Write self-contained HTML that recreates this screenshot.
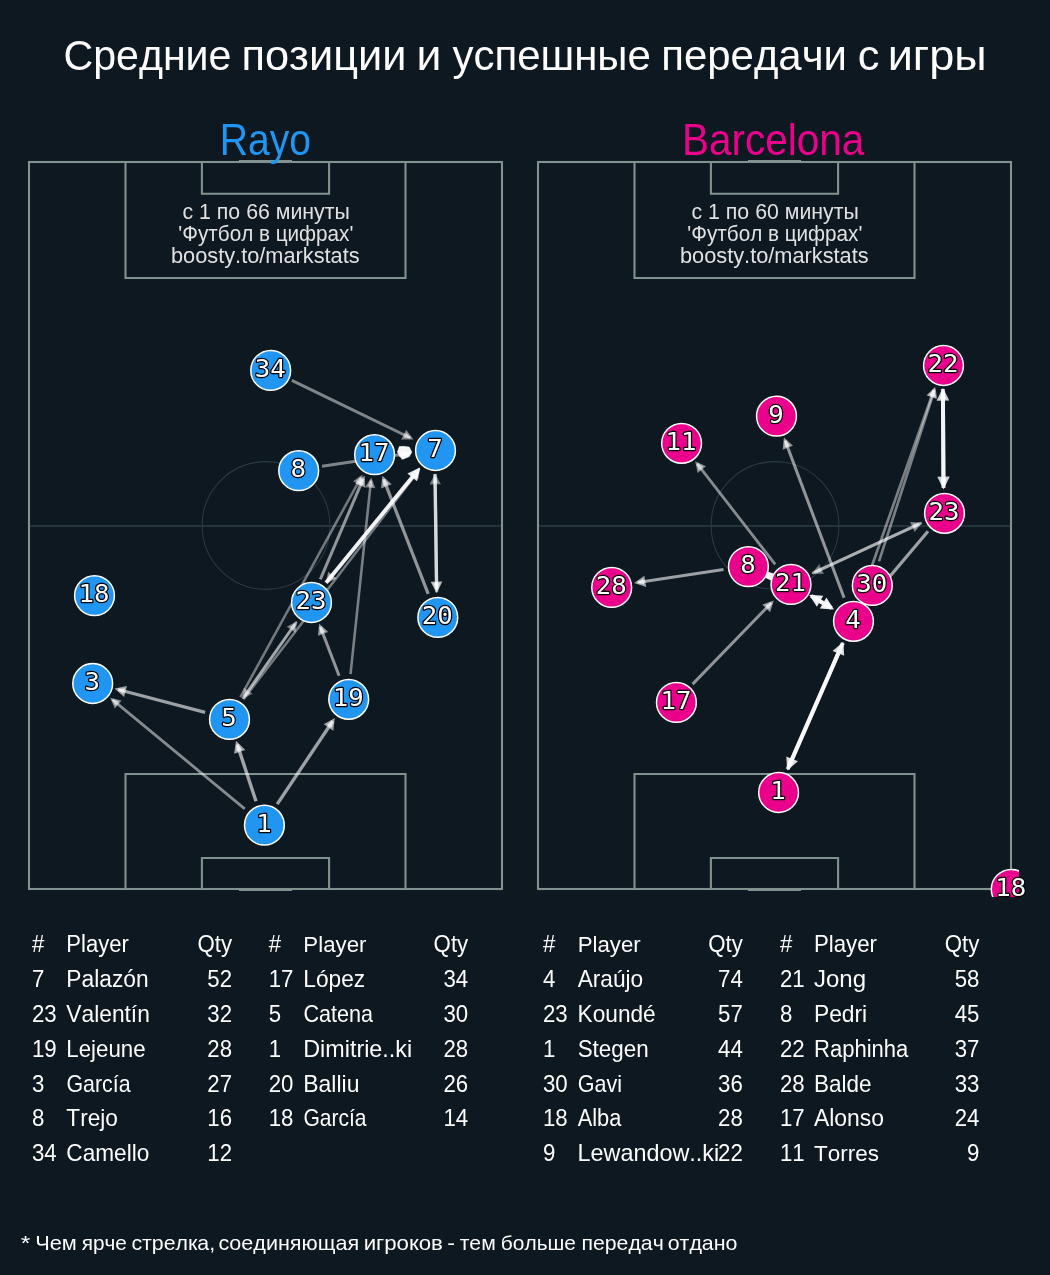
<!DOCTYPE html>
<html lang="ru"><head><meta charset="utf-8"><title>Средние позиции и успешные передачи с игры</title>
<style>
html,body{margin:0;padding:0;background:#0e1820;}
body{width:1050px;height:1275px;overflow:hidden;}
svg{display:block;}
text{font-family:"Liberation Sans",sans-serif;fill:#ffffff;font-kerning:none;font-variant-ligatures:none;}
.n{font-family:"DejaVu Sans Mono",monospace;font-size:25px;fill:#fff;stroke:#000;stroke-width:2.4px;paint-order:stroke fill;stroke-linejoin:round;text-anchor:middle;}
.t{font-size:22px;}
.r{text-anchor:end;}
.m{text-anchor:middle;}
</style></head><body>
<svg width="1050" height="1275" viewBox="0 0 1050 1275">
<rect width="1050" height="1275" fill="#0e1820"/>
<g opacity="0.999">
<defs><clipPath id="cl"><rect x="20" y="153" width="490" height="744"/></clipPath><clipPath id="cr"><rect x="529" y="153" width="490" height="744"/></clipPath></defs>
<text transform="translate(63.51,69.8) scale(0.9521,1)" font-size="43.2" >Средние</text>
<text transform="translate(241.49,69.8) scale(1.0033,1)" font-size="43.2" >позиции</text>
<text transform="translate(416.51,69.8) scale(1.0308,1)" font-size="43.2" >и</text>
<text transform="translate(452.40,69.8) scale(0.9724,1)" font-size="43.2" >успешные</text>
<text transform="translate(661.29,69.8) scale(0.9706,1)" font-size="43.2" >передачи</text>
<text transform="translate(857.76,69.8) scale(1.0040,1)" font-size="43.2" >с</text>
<text transform="translate(887.68,69.8) scale(1.0419,1)" font-size="43.2" >игры</text>
<line x1="29" y1="526" x2="502" y2="526" stroke="#25333b" stroke-width="2"/>
<circle cx="266.0" cy="525.5" r="63.9" fill="none" stroke="#2b3c43" stroke-width="1.1"/>
<rect x="29" y="162" width="473" height="727.0" fill="none" stroke="#81948f" stroke-width="2.1"/>
<polyline points="125.5,162 125.5,278.0 405.5,278.0 405.5,162" fill="none" stroke="#81948f" stroke-width="2.1"/>
<polyline points="201.9,162 201.9,193.7 329.1,193.7 329.1,162" fill="none" stroke="#81948f" stroke-width="2.1"/>
<line x1="239.0" y1="161.0" x2="292.0" y2="161.0" stroke="#81948f" stroke-width="2.1"/>
<polyline points="125.5,889 125.5,774.0 405.5,774.0 405.5,889" fill="none" stroke="#81948f" stroke-width="2.1"/>
<polyline points="201.9,889 201.9,858.0 329.1,858.0 329.1,889" fill="none" stroke="#81948f" stroke-width="2.1"/>
<line x1="239.0" y1="890.0" x2="292.0" y2="890.0" stroke="#81948f" stroke-width="2.1"/>
<line x1="538" y1="526" x2="1011" y2="526" stroke="#25333b" stroke-width="2"/>
<circle cx="775.0" cy="525.5" r="63.9" fill="none" stroke="#2b3c43" stroke-width="1.1"/>
<rect x="538" y="162" width="473" height="727.0" fill="none" stroke="#81948f" stroke-width="2.1"/>
<polyline points="634.5,162 634.5,278.0 914.5,278.0 914.5,162" fill="none" stroke="#81948f" stroke-width="2.1"/>
<polyline points="710.9,162 710.9,193.7 838.1,193.7 838.1,162" fill="none" stroke="#81948f" stroke-width="2.1"/>
<line x1="748.0" y1="161.0" x2="801.0" y2="161.0" stroke="#81948f" stroke-width="2.1"/>
<polyline points="634.5,889 634.5,774.0 914.5,774.0 914.5,889" fill="none" stroke="#81948f" stroke-width="2.1"/>
<polyline points="710.9,889 710.9,858.0 838.1,858.0 838.1,889" fill="none" stroke="#81948f" stroke-width="2.1"/>
<line x1="748.0" y1="890.0" x2="801.0" y2="890.0" stroke="#81948f" stroke-width="2.1"/>
<text transform="translate(219.69,154.6) scale(0.8986,1)" font-size="43.5" style="fill:#2196f3">Rayo</text>
<text transform="translate(682.08,154.6) scale(0.9308,1)" font-size="43.5" style="fill:#ec008c">Barcelona</text>
<text transform="translate(182.49,219.0) scale(1.0055,1)" font-size="21.2" style="fill:#e2e2e2">с 1 по 66 минуты</text>
<text transform="translate(178.35,241.0) scale(0.9756,1)" font-size="21.2" style="fill:#e2e2e2">'Футбол в цифрах'</text>
<text transform="translate(171.00,262.9) scale(1.0271,1)" font-size="21.2" style="fill:#e2e2e2">boosty.to/markstats</text>
<text transform="translate(691.49,219.0) scale(1.0055,1)" font-size="21.2" style="fill:#e2e2e2">с 1 по 60 минуты</text>
<text transform="translate(687.35,241.0) scale(0.9756,1)" font-size="21.2" style="fill:#e2e2e2">'Футбол в цифрах'</text>
<text transform="translate(680.00,262.9) scale(1.0271,1)" font-size="21.2" style="fill:#e2e2e2">boosty.to/markstats</text>
<g clip-path="url(#cl)">
<line x1="291.8" y1="380.3" x2="410.6" y2="438.0" stroke="#fff" stroke-opacity="0.48" stroke-width="3.0"/><polygon points="403.6,438.1 410.6,438.0 406.4,432.5" fill="#fff" fill-opacity="0.48" stroke="#fff" stroke-opacity="0.48" stroke-width="3.0" stroke-linejoin="miter" stroke-miterlimit="10"/>
<line x1="322.0" y1="466.3" x2="408.2" y2="453.6" stroke="#fff" stroke-opacity="0.48" stroke-width="3.0"/><polygon points="402.5,457.6 408.2,453.6 401.6,451.5" fill="#fff" fill-opacity="0.48" stroke="#fff" stroke-opacity="0.48" stroke-width="3.0" stroke-linejoin="miter" stroke-miterlimit="10"/>
<line x1="240.4" y1="697.2" x2="361.1" y2="477.1" stroke="#fff" stroke-opacity="0.42" stroke-width="2.6"/><polygon points="360.8,484.1 361.1,477.1 355.4,481.1" fill="#fff" fill-opacity="0.42" stroke="#fff" stroke-opacity="0.42" stroke-width="2.6" stroke-linejoin="miter" stroke-miterlimit="10"/>
<line x1="320.3" y1="579.3" x2="363.3" y2="478.6" stroke="#fff" stroke-opacity="0.55" stroke-width="3.0"/><polygon points="363.7,485.5 363.3,478.6 358.0,483.1" fill="#fff" fill-opacity="0.55" stroke="#fff" stroke-opacity="0.55" stroke-width="3.0" stroke-linejoin="miter" stroke-miterlimit="10"/>
<line x1="350.5" y1="674.2" x2="371.0" y2="480.3" stroke="#fff" stroke-opacity="0.45" stroke-width="2.6"/><polygon points="373.4,486.7 371.0,480.3 367.3,486.1" fill="#fff" fill-opacity="0.45" stroke="#fff" stroke-opacity="0.45" stroke-width="2.6" stroke-linejoin="miter" stroke-miterlimit="10"/>
<line x1="428.2" y1="593.9" x2="383.6" y2="479.1" stroke="#fff" stroke-opacity="0.55" stroke-width="3.2"/><polygon points="388.7,483.7 383.6,479.1 382.9,486.0" fill="#fff" fill-opacity="0.55" stroke="#fff" stroke-opacity="0.55" stroke-width="3.2" stroke-linejoin="miter" stroke-miterlimit="10"/>
<line x1="243.5" y1="699.2" x2="418.6" y2="470.7" stroke="#fff" stroke-opacity="0.42" stroke-width="2.6"/><polygon points="417.3,477.5 418.6,470.7 412.4,473.8" fill="#fff" fill-opacity="0.42" stroke="#fff" stroke-opacity="0.42" stroke-width="2.6" stroke-linejoin="miter" stroke-miterlimit="10"/>
<line x1="419.3" y1="468.6" x2="327.6" y2="581.0" stroke="#fff" stroke-opacity="0.5" stroke-width="2.8"/><polygon points="329.1,574.3 327.6,581.0 333.9,578.2" fill="#fff" fill-opacity="0.5" stroke="#fff" stroke-opacity="0.5" stroke-width="2.8" stroke-linejoin="miter" stroke-miterlimit="10"/>
<line x1="326.1" y1="582.8" x2="417.3" y2="471.0" stroke="#fff" stroke-opacity="0.9" stroke-width="3.9"/><polygon points="415.8,477.8 417.3,471.0 411.0,473.9" fill="#fff" fill-opacity="0.9" stroke="#fff" stroke-opacity="0.9" stroke-width="3.9" stroke-linejoin="miter" stroke-miterlimit="10"/>
<line x1="435.0" y1="474.1" x2="436.6" y2="589.5" stroke="#fff" stroke-opacity="0.72" stroke-width="3.4"/><polygon points="433.4,583.3 436.6,589.5 439.6,583.2" fill="#fff" fill-opacity="0.72" stroke="#fff" stroke-opacity="0.72" stroke-width="3.4" stroke-linejoin="miter" stroke-miterlimit="10"/>
<line x1="436.7" y1="592.2" x2="435.1" y2="476.7" stroke="#fff" stroke-opacity="0.42" stroke-width="3.2"/><polygon points="438.3,482.8 435.1,476.7 432.1,482.9" fill="#fff" fill-opacity="0.42" stroke="#fff" stroke-opacity="0.42" stroke-width="3.2" stroke-linejoin="miter" stroke-miterlimit="10"/>
<line x1="242.7" y1="698.6" x2="295.4" y2="623.5" stroke="#fff" stroke-opacity="0.42" stroke-width="2.8"/><polygon points="294.4,630.4 295.4,623.5 289.3,626.8" fill="#fff" fill-opacity="0.42" stroke="#fff" stroke-opacity="0.42" stroke-width="2.8" stroke-linejoin="miter" stroke-miterlimit="10"/>
<line x1="296.7" y1="621.7" x2="244.0" y2="696.8" stroke="#fff" stroke-opacity="0.36" stroke-width="2.8"/><polygon points="245.0,689.9 244.0,696.8 250.1,693.5" fill="#fff" fill-opacity="0.36" stroke="#fff" stroke-opacity="0.36" stroke-width="2.8" stroke-linejoin="miter" stroke-miterlimit="10"/>
<line x1="339.1" y1="675.7" x2="320.3" y2="626.7" stroke="#fff" stroke-opacity="0.55" stroke-width="3.0"/><polygon points="325.4,631.4 320.3,626.7 319.7,633.6" fill="#fff" fill-opacity="0.55" stroke="#fff" stroke-opacity="0.55" stroke-width="3.0" stroke-linejoin="miter" stroke-miterlimit="10"/>
<line x1="205.1" y1="712.4" x2="118.0" y2="689.5" stroke="#fff" stroke-opacity="0.6" stroke-width="3.2"/><polygon points="124.8,688.1 118.0,689.5 123.2,694.1" fill="#fff" fill-opacity="0.6" stroke="#fff" stroke-opacity="0.6" stroke-width="3.2" stroke-linejoin="miter" stroke-miterlimit="10"/>
<line x1="244.8" y1="808.9" x2="112.4" y2="699.6" stroke="#fff" stroke-opacity="0.5" stroke-width="2.7"/><polygon points="119.2,701.2 112.4,699.6 115.2,706.0" fill="#fff" fill-opacity="0.5" stroke="#fff" stroke-opacity="0.5" stroke-width="2.7" stroke-linejoin="miter" stroke-miterlimit="10"/>
<line x1="256.0" y1="801.2" x2="237.2" y2="744.4" stroke="#fff" stroke-opacity="0.62" stroke-width="3.4"/><polygon points="242.1,749.3 237.2,744.4 236.2,751.2" fill="#fff" fill-opacity="0.62" stroke="#fff" stroke-opacity="0.62" stroke-width="3.4" stroke-linejoin="miter" stroke-miterlimit="10"/>
<line x1="277.2" y1="804.1" x2="332.8" y2="721.0" stroke="#fff" stroke-opacity="0.6" stroke-width="3.3"/><polygon points="332.0,727.9 332.8,721.0 326.8,724.4" fill="#fff" fill-opacity="0.6" stroke="#fff" stroke-opacity="0.6" stroke-width="3.3" stroke-linejoin="miter" stroke-miterlimit="10"/>
<polygon points="397.4,452.1 399.3,446.6 403.3,446.3 409.2,447.0 411.9,452.1 409.3,456.6 403.0,459.2 399.6,456.6" fill="#fff" fill-opacity="0.96" stroke="#fff" stroke-opacity="0.6" stroke-width="0.8" stroke-linejoin="round"/>
<circle cx="270.7" cy="370.4" r="19.9" fill="#2196f3" stroke="#fff" stroke-width="1.5"/>
<circle cx="298.7" cy="470.7" r="19.9" fill="#2196f3" stroke="#fff" stroke-width="1.5"/>
<circle cx="374.6" cy="454.7" r="19.9" fill="#2196f3" stroke="#fff" stroke-width="1.5"/>
<circle cx="435.5" cy="450.5" r="19.9" fill="#2196f3" stroke="#fff" stroke-width="1.5"/>
<circle cx="94.5" cy="595.6" r="19.9" fill="#2196f3" stroke="#fff" stroke-width="1.5"/>
<circle cx="311.5" cy="602.5" r="19.9" fill="#2196f3" stroke="#fff" stroke-width="1.5"/>
<circle cx="437.8" cy="617.4" r="19.9" fill="#2196f3" stroke="#fff" stroke-width="1.5"/>
<circle cx="92.7" cy="683.5" r="19.9" fill="#2196f3" stroke="#fff" stroke-width="1.5"/>
<circle cx="229.5" cy="719.4" r="19.9" fill="#2196f3" stroke="#fff" stroke-width="1.5"/>
<circle cx="348.7" cy="699.3" r="19.9" fill="#2196f3" stroke="#fff" stroke-width="1.5"/>
<circle cx="264.4" cy="825.2" r="19.9" fill="#2196f3" stroke="#fff" stroke-width="1.5"/>
</g>
<text transform="translate(270.20,377.10) scale(1.03,1.022)" class="n">34</text>
<text transform="translate(298.20,477.40) scale(1.03,1.022)" class="n">8</text>
<text transform="translate(374.10,461.40) scale(1.03,1.022)" class="n">17</text>
<text transform="translate(435.00,457.20) scale(1.03,1.022)" class="n">7</text>
<text transform="translate(94.00,602.30) scale(1.03,1.022)" class="n">18</text>
<text transform="translate(311.00,609.20) scale(1.03,1.022)" class="n">23</text>
<text transform="translate(437.30,624.10) scale(1.03,1.022)" class="n">20</text>
<text transform="translate(92.20,690.20) scale(1.03,1.022)" class="n">3</text>
<text transform="translate(229.00,726.10) scale(1.03,1.022)" class="n">5</text>
<text transform="translate(348.20,706.00) scale(1.03,1.022)" class="n">19</text>
<text transform="translate(263.90,831.90) scale(1.03,1.022)" class="n">1</text>
<g clip-path="url(#cr)">
<line x1="775.2" y1="564.3" x2="697.1" y2="463.6" stroke="#fff" stroke-opacity="0.5" stroke-width="2.8"/><polygon points="703.4,466.6 697.1,463.6 698.5,470.4" fill="#fff" fill-opacity="0.5" stroke="#fff" stroke-opacity="0.5" stroke-width="2.8" stroke-linejoin="miter" stroke-miterlimit="10"/>
<line x1="844.1" y1="597.7" x2="785.1" y2="440.5" stroke="#fff" stroke-opacity="0.55" stroke-width="3.0"/><polygon points="790.2,445.2 785.1,440.5 784.4,447.4" fill="#fff" fill-opacity="0.55" stroke="#fff" stroke-opacity="0.55" stroke-width="3.0" stroke-linejoin="miter" stroke-miterlimit="10"/>
<line x1="879.0" y1="561.4" x2="934.5" y2="390.0" stroke="#fff" stroke-opacity="0.45" stroke-width="2.7"/><polygon points="935.6,396.8 934.5,390.0 929.7,394.9" fill="#fff" fill-opacity="0.45" stroke="#fff" stroke-opacity="0.45" stroke-width="2.7" stroke-linejoin="miter" stroke-miterlimit="10"/>
<line x1="860.8" y1="597.5" x2="933.9" y2="389.8" stroke="#fff" stroke-opacity="0.45" stroke-width="2.7"/><polygon points="934.7,396.7 933.9,389.8 928.9,394.6" fill="#fff" fill-opacity="0.45" stroke="#fff" stroke-opacity="0.45" stroke-width="2.7" stroke-linejoin="miter" stroke-miterlimit="10"/>
<line x1="942.9" y1="389.1" x2="943.5" y2="484.9" stroke="#fff" stroke-opacity="0.8" stroke-width="4.0"/><polygon points="940.4,478.7 943.5,484.9 946.6,478.6" fill="#fff" fill-opacity="0.8" stroke="#fff" stroke-opacity="0.8" stroke-width="4.0" stroke-linejoin="miter" stroke-miterlimit="10"/>
<line x1="943.5" y1="488.1" x2="942.9" y2="392.3" stroke="#fff" stroke-opacity="0.8" stroke-width="4.0"/><polygon points="946.0,398.5 942.9,392.3 939.8,398.6" fill="#fff" fill-opacity="0.8" stroke="#fff" stroke-opacity="0.8" stroke-width="4.0" stroke-linejoin="miter" stroke-miterlimit="10"/>
<line x1="812.3" y1="573.3" x2="919.4" y2="523.8" stroke="#fff" stroke-opacity="0.45" stroke-width="3.0"/><polygon points="915.0,529.2 919.4,523.8 912.4,523.6" fill="#fff" fill-opacity="0.45" stroke="#fff" stroke-opacity="0.45" stroke-width="3.0" stroke-linejoin="miter" stroke-miterlimit="10"/>
<line x1="921.6" y1="522.8" x2="814.5" y2="572.3" stroke="#fff" stroke-opacity="0.38" stroke-width="3.0"/><polygon points="818.9,566.9 814.5,572.3 821.5,572.5" fill="#fff" fill-opacity="0.38" stroke="#fff" stroke-opacity="0.38" stroke-width="3.0" stroke-linejoin="miter" stroke-miterlimit="10"/>
<line x1="928.0" y1="531.2" x2="870.1" y2="599.9" stroke="#fff" stroke-opacity="0.6" stroke-width="3.2"/><polygon points="871.7,593.1 870.1,599.9 876.5,597.1" fill="#fff" fill-opacity="0.6" stroke="#fff" stroke-opacity="0.6" stroke-width="3.2" stroke-linejoin="miter" stroke-miterlimit="10"/>
<line x1="723.5" y1="569.5" x2="637.6" y2="582.5" stroke="#fff" stroke-opacity="0.6" stroke-width="3.2"/><polygon points="643.2,578.5 637.6,582.5 644.2,584.7" fill="#fff" fill-opacity="0.6" stroke="#fff" stroke-opacity="0.6" stroke-width="3.2" stroke-linejoin="miter" stroke-miterlimit="10"/>
<line x1="811.2" y1="596.0" x2="830.2" y2="607.2" stroke="#fff" stroke-opacity="0.92" stroke-width="4.0"/><polygon points="823.3,606.8 830.2,607.2 826.5,601.4" fill="#fff" fill-opacity="0.92" stroke="#fff" stroke-opacity="0.92" stroke-width="4.0" stroke-linejoin="miter" stroke-miterlimit="10"/>
<line x1="831.7" y1="608.1" x2="813.0" y2="597.1" stroke="#fff" stroke-opacity="0.92" stroke-width="4.0"/><polygon points="819.9,597.5 813.0,597.1 816.8,602.9" fill="#fff" fill-opacity="0.92" stroke="#fff" stroke-opacity="0.92" stroke-width="4.0" stroke-linejoin="miter" stroke-miterlimit="10"/>
<line x1="692.6" y1="684.1" x2="771.5" y2="602.8" stroke="#fff" stroke-opacity="0.55" stroke-width="3.0"/><polygon points="769.4,609.5 771.5,602.8 765.0,605.1" fill="#fff" fill-opacity="0.55" stroke="#fff" stroke-opacity="0.55" stroke-width="3.0" stroke-linejoin="miter" stroke-miterlimit="10"/>
<line x1="787.6" y1="769.3" x2="841.6" y2="645.8" stroke="#fff" stroke-opacity="0.85" stroke-width="4.0"/><polygon points="842.0,652.7 841.6,645.8 836.3,650.3" fill="#fff" fill-opacity="0.85" stroke="#fff" stroke-opacity="0.85" stroke-width="4.0" stroke-linejoin="miter" stroke-miterlimit="10"/>
<line x1="842.9" y1="642.9" x2="788.9" y2="766.4" stroke="#fff" stroke-opacity="0.85" stroke-width="4.0"/><polygon points="788.5,759.5 788.9,766.4 794.2,761.9" fill="#fff" fill-opacity="0.85" stroke="#fff" stroke-opacity="0.85" stroke-width="4.0" stroke-linejoin="miter" stroke-miterlimit="10"/>
<polygon points="766.3,571.3 773.5,573.5 771.5,580.7 765.3,577.7" fill="#fff" fill-opacity="0.97"/>
<circle cx="943.5" cy="365.5" r="19.9" fill="#ec008c" stroke="#fff" stroke-width="1.5"/>
<circle cx="776.5" cy="416.2" r="19.9" fill="#ec008c" stroke="#fff" stroke-width="1.5"/>
<circle cx="681.6" cy="443.3" r="19.9" fill="#ec008c" stroke="#fff" stroke-width="1.5"/>
<circle cx="944.5" cy="513.3" r="19.9" fill="#ec008c" stroke="#fff" stroke-width="1.5"/>
<circle cx="748.4" cy="566.6" r="19.9" fill="#ec008c" stroke="#fff" stroke-width="1.5"/>
<circle cx="791.0" cy="584.4" r="19.9" fill="#ec008c" stroke="#fff" stroke-width="1.5"/>
<circle cx="872.3" cy="585.4" r="19.9" fill="#ec008c" stroke="#fff" stroke-width="1.5"/>
<circle cx="853.5" cy="621.3" r="19.9" fill="#ec008c" stroke="#fff" stroke-width="1.5"/>
<circle cx="611.7" cy="587.4" r="19.9" fill="#ec008c" stroke="#fff" stroke-width="1.5"/>
<circle cx="676.4" cy="702.4" r="19.9" fill="#ec008c" stroke="#fff" stroke-width="1.5"/>
<circle cx="778.6" cy="792.5" r="19.9" fill="#ec008c" stroke="#fff" stroke-width="1.5"/>
<circle cx="1011.2" cy="889.3" r="19.9" fill="#ec008c" stroke="#fff" stroke-width="1.5"/>
</g>
<text transform="translate(943.00,372.20) scale(1.03,1.022)" class="n">22</text>
<text transform="translate(776.00,422.90) scale(1.03,1.022)" class="n">9</text>
<text transform="translate(681.10,450.00) scale(1.03,1.022)" class="n">11</text>
<text transform="translate(944.00,520.00) scale(1.03,1.022)" class="n">23</text>
<text transform="translate(747.90,573.30) scale(1.03,1.022)" class="n">8</text>
<text transform="translate(790.50,591.10) scale(1.03,1.022)" class="n">21</text>
<text transform="translate(871.80,592.10) scale(1.03,1.022)" class="n">30</text>
<text transform="translate(853.00,628.00) scale(1.03,1.022)" class="n">4</text>
<text transform="translate(611.20,594.10) scale(1.03,1.022)" class="n">28</text>
<text transform="translate(675.90,709.10) scale(1.03,1.022)" class="n">17</text>
<text transform="translate(778.10,799.20) scale(1.03,1.022)" class="n">1</text>
<text transform="translate(1010.70,896.00) scale(1.03,1.022)" class="n">18</text>
<g font-size="23" style="fill:#f4f4f4">
<text transform="translate(32.0,951.7) scale(0.967,1)">#</text>
<text transform="translate(66.36,951.7) scale(0.9603,1)" font-size="23" >Player</text>
<text transform="translate(232.1,951.7) scale(0.967,1)" class="r">Qty</text>
<text transform="translate(32.0,986.7) scale(0.967,1)">7</text>
<text transform="translate(66.30,986.7) scale(0.9911,1)" font-size="23" >Palazón</text>
<text transform="translate(232.1,986.7) scale(0.967,1)" class="r">52</text>
<text transform="translate(32.0,1021.6) scale(0.967,1)">23</text>
<text transform="translate(66.35,1021.6) scale(0.9897,1)" font-size="23" >Valentín</text>
<text transform="translate(232.1,1021.6) scale(0.967,1)" class="r">32</text>
<text transform="translate(32.0,1056.5) scale(0.967,1)">19</text>
<text transform="translate(66.35,1056.5) scale(0.9693,1)" font-size="23" >Lejeune</text>
<text transform="translate(232.1,1056.5) scale(0.967,1)" class="r">28</text>
<text transform="translate(32.0,1091.5) scale(0.967,1)">3</text>
<text transform="translate(66.39,1091.5) scale(0.9302,1)" font-size="23" >García</text>
<text transform="translate(232.1,1091.5) scale(0.967,1)" class="r">27</text>
<text transform="translate(32.0,1126.4) scale(0.967,1)">8</text>
<text transform="translate(66.34,1126.4) scale(0.9849,1)" font-size="23" >Trejo</text>
<text transform="translate(232.1,1126.4) scale(0.967,1)" class="r">16</text>
<text transform="translate(32.0,1161.4) scale(0.967,1)">34</text>
<text transform="translate(66.33,1161.4) scale(0.9841,1)" font-size="23" >Camello</text>
<text transform="translate(232.1,1161.4) scale(0.967,1)" class="r">12</text>
<text transform="translate(268.7,951.7) scale(0.967,1)">#</text>
<text transform="translate(303.35,951.7) scale(0.9682,1)" font-size="23" >Player</text>
<text transform="translate(468.2,951.7) scale(0.967,1)" class="r">Qty</text>
<text transform="translate(268.7,986.7) scale(0.967,1)">17</text>
<text transform="translate(303.31,986.7) scale(0.9881,1)" font-size="23" >López</text>
<text transform="translate(468.2,986.7) scale(0.967,1)" class="r">34</text>
<text transform="translate(268.7,1021.6) scale(0.967,1)">5</text>
<text transform="translate(303.38,1021.6) scale(0.9387,1)" font-size="23" >Catena</text>
<text transform="translate(468.2,1021.6) scale(0.967,1)" class="r">30</text>
<text transform="translate(268.7,1056.5) scale(0.967,1)">1</text>
<text transform="translate(303.26,1056.5) scale(1.0148,1)" font-size="23" >Dimitrie..ki</text>
<text transform="translate(468.2,1056.5) scale(0.967,1)" class="r">28</text>
<text transform="translate(268.7,1091.5) scale(0.967,1)">20</text>
<text transform="translate(303.29,1091.5) scale(0.9978,1)" font-size="23" >Balliu</text>
<text transform="translate(468.2,1091.5) scale(0.967,1)" class="r">26</text>
<text transform="translate(268.7,1126.4) scale(0.967,1)">18</text>
<text transform="translate(303.41,1126.4) scale(0.9155,1)" font-size="23" >García</text>
<text transform="translate(468.2,1126.4) scale(0.967,1)" class="r">14</text>
<text transform="translate(543.0,951.7) scale(0.967,1)">#</text>
<text transform="translate(577.65,951.7) scale(0.9682,1)" font-size="23" >Player</text>
<text transform="translate(742.8,951.7) scale(0.967,1)" class="r">Qty</text>
<text transform="translate(543.0,986.7) scale(0.967,1)">4</text>
<text transform="translate(577.65,986.7) scale(0.9868,1)" font-size="23" >Araújo</text>
<text transform="translate(742.8,986.7) scale(0.967,1)" class="r">74</text>
<text transform="translate(543.0,1021.6) scale(0.967,1)">23</text>
<text transform="translate(577.62,1021.6) scale(0.9848,1)" font-size="23" >Koundé</text>
<text transform="translate(742.8,1021.6) scale(0.967,1)" class="r">57</text>
<text transform="translate(543.0,1056.5) scale(0.967,1)">1</text>
<text transform="translate(577.64,1056.5) scale(0.9756,1)" font-size="23" >Stegen</text>
<text transform="translate(742.8,1056.5) scale(0.967,1)" class="r">44</text>
<text transform="translate(543.0,1091.5) scale(0.967,1)">30</text>
<text transform="translate(577.69,1091.5) scale(0.9360,1)" font-size="23" >Gavi</text>
<text transform="translate(742.8,1091.5) scale(0.967,1)" class="r">36</text>
<text transform="translate(543.0,1126.4) scale(0.967,1)">18</text>
<text transform="translate(577.65,1126.4) scale(0.9482,1)" font-size="23" >Alba</text>
<text transform="translate(742.8,1126.4) scale(0.967,1)" class="r">28</text>
<text transform="translate(543.0,1161.4) scale(0.967,1)">9</text>
<text transform="translate(577.56,1161.4) scale(1.0169,1)" font-size="23" >Lewandow..ki</text>
<text transform="translate(742.8,1161.4) scale(0.967,1)" class="r">22</text>
<text transform="translate(780.0,951.7) scale(0.967,1)">#</text>
<text transform="translate(813.95,951.7) scale(0.9666,1)" font-size="23" >Player</text>
<text transform="translate(979.4,951.7) scale(0.967,1)" class="r">Qty</text>
<text transform="translate(780.0,986.7) scale(0.967,1)">21</text>
<text transform="translate(813.92,986.7) scale(1.0452,1)" font-size="23" >Jong</text>
<text transform="translate(979.4,986.7) scale(0.967,1)" class="r">58</text>
<text transform="translate(780.0,1021.6) scale(0.967,1)">8</text>
<text transform="translate(813.90,1021.6) scale(0.9934,1)" font-size="23" >Pedri</text>
<text transform="translate(979.4,1021.6) scale(0.967,1)" class="r">45</text>
<text transform="translate(780.0,1056.5) scale(0.967,1)">22</text>
<text transform="translate(813.97,1056.5) scale(0.9580,1)" font-size="23" >Raphinha</text>
<text transform="translate(979.4,1056.5) scale(0.967,1)" class="r">37</text>
<text transform="translate(780.0,1091.5) scale(0.967,1)">28</text>
<text transform="translate(813.93,1091.5) scale(0.9787,1)" font-size="23" >Balde</text>
<text transform="translate(979.4,1091.5) scale(0.967,1)" class="r">33</text>
<text transform="translate(780.0,1126.4) scale(0.967,1)">17</text>
<text transform="translate(813.95,1126.4) scale(0.9970,1)" font-size="23" >Alonso</text>
<text transform="translate(979.4,1126.4) scale(0.967,1)" class="r">24</text>
<text transform="translate(780.0,1161.4) scale(0.967,1)">11</text>
<text transform="translate(813.94,1161.4) scale(0.9777,1)" font-size="23" >Torres</text>
<text transform="translate(979.4,1161.4) scale(0.967,1)" class="r">9</text>
</g>
<text transform="translate(20.80,1250.0) scale(1.2188,1)" font-size="20.2" >*</text>
<text transform="translate(35.19,1250.0) scale(1.0810,1)" font-size="20.2" >Чем</text>
<text transform="translate(81.73,1250.0) scale(1.0288,1)" font-size="20.2" >ярче</text>
<text transform="translate(131.39,1250.0) scale(1.0572,1)" font-size="20.2" >стрелка,</text>
<text transform="translate(218.58,1250.0) scale(1.0679,1)" font-size="20.2" >соединяющая</text>
<text transform="translate(363.66,1250.0) scale(1.1027,1)" font-size="20.2" >игроков</text>
<text transform="translate(447.26,1250.0) scale(1.1558,1)" font-size="20.2" >-</text>
<text transform="translate(459.64,1250.0) scale(1.0509,1)" font-size="20.2" >тем</text>
<text transform="translate(500.77,1250.0) scale(1.0373,1)" font-size="20.2" >больше</text>
<text transform="translate(581.42,1250.0) scale(1.0534,1)" font-size="20.2" >передач</text>
<text transform="translate(667.70,1250.0) scale(1.0592,1)" font-size="20.2" >отдано</text>
</g></svg></body></html>
